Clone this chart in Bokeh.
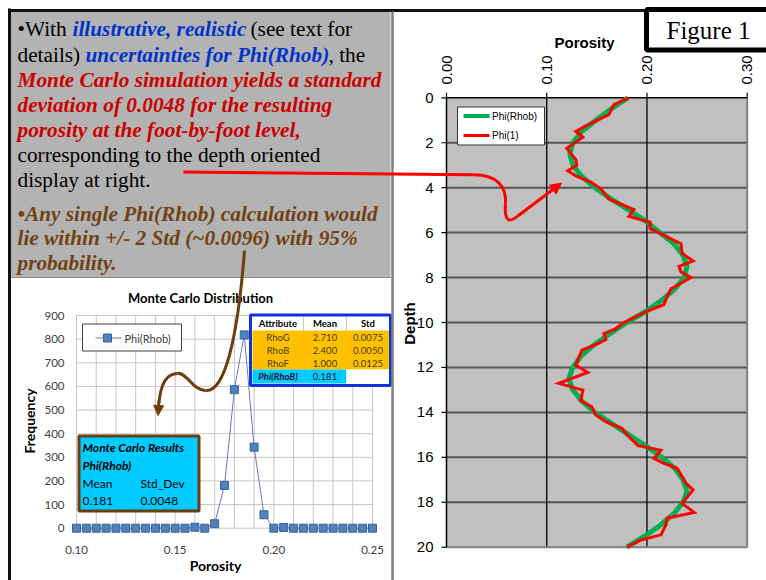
import numpy as np
from bokeh.plotting import figure
from bokeh.models import Range1d, Arrow, NormalHead
from bokeh.core.properties import value
from bokeh.embed import file_html
from bokeh.resources import INLINE

# ---------------- data ----------------
# Monte Carlo histogram of Phi(Rhob)
hist_porosity = [0.100, 0.105, 0.110, 0.115, 0.120, 0.125, 0.130, 0.135, 0.140, 0.145,
                 0.150, 0.155, 0.160, 0.165, 0.170, 0.175, 0.180, 0.185, 0.190, 0.195,
                 0.200, 0.205, 0.210, 0.215, 0.220, 0.225, 0.230, 0.235, 0.240, 0.245, 0.250]
hist_frequency = [0, 0, 0, 0, 0, 0, 0, 0, 0, 0,
                  0, 0, 4, 0, 19, 181, 586, 818, 343, 57,
                  0, 3, 0, 0, 0, 0, 0, 0, 0, 0, 0]
hist_x_ticks = [0.10, 0.15, 0.20, 0.25]
hist_x_labels = ["0.10", "0.15", "0.20", "0.25"]
hist_x_grid = [0.10, 0.11, 0.12, 0.13, 0.14, 0.15, 0.16, 0.17, 0.18,
               0.19, 0.20, 0.21, 0.22, 0.23, 0.24, 0.25]
hist_y_ticks = [0, 100, 200, 300, 400, 500, 600, 700, 800, 900]

# depth profile: smooth Phi(Rhob) and a single noisy realisation Phi(1)
depth_rhob = [0.0, 0.5, 1.0, 1.5, 2.0, 2.5, 3.0, 3.5, 4.0, 4.5, 5.0, 5.5, 6.0, 6.5,
              7.0, 7.5, 8.0, 8.5, 9.0, 9.5, 10.0, 10.5, 11.0, 11.5, 12.0, 12.5, 13.0,
              13.5, 14.0, 14.5, 15.0, 15.5, 16.0, 16.5, 17.0, 17.5, 18.0, 18.5, 19.0,
              19.5, 20.0]
phi_rhob = [0.181, 0.164, 0.149, 0.135, 0.126, 0.123, 0.126, 0.135, 0.148, 0.164,
            0.182, 0.199, 0.213, 0.227, 0.236, 0.240, 0.237, 0.228, 0.215, 0.199,
            0.180, 0.163, 0.147, 0.134, 0.126, 0.122, 0.126, 0.135, 0.148, 0.165,
            0.182, 0.199, 0.215, 0.228, 0.236, 0.240, 0.236, 0.227, 0.214, 0.198, 0.180]
depth_one = [0.00, 0.30, 0.75, 1.25, 1.50, 1.75, 2.25, 2.75, 3.00, 3.25, 3.50, 3.75,
             4.05, 4.50, 4.98, 5.28, 5.53, 5.82, 6.19, 6.49, 6.93, 7.26, 7.50, 7.75,
             8.00, 8.50, 8.85, 9.20, 9.50, 10.00, 10.27, 10.49, 10.76, 10.96, 11.23,
             11.90, 12.22, 12.71, 13.01, 13.48, 13.75, 14.12, 14.42, 14.71, 15.00,
             15.48, 15.68, 16.05, 16.27, 16.49, 17.16, 17.45, 18.05, 18.45, 18.71,
             19.00, 19.45, 19.68, 20.00]
phi_one = [0.182, 0.167, 0.162, 0.139, 0.129, 0.136, 0.120, 0.129, 0.130, 0.121, 0.130,
           0.144, 0.154, 0.162, 0.187, 0.182, 0.203, 0.203, 0.220, 0.234, 0.235, 0.246,
           0.232, 0.234, 0.244, 0.224, 0.220, 0.217, 0.200, 0.177, 0.169, 0.157, 0.159,
           0.150, 0.135, 0.129, 0.141, 0.112, 0.136, 0.134, 0.145, 0.149, 0.159, 0.175,
           0.180, 0.191, 0.214, 0.207, 0.217, 0.230, 0.239, 0.246, 0.235, 0.247, 0.220,
           0.219, 0.214, 0.194, 0.180]
depth_ticks = [0, 2, 4, 6, 8, 10, 12, 14, 16, 18, 20]
phi_ticks = [0.0, 0.1, 0.2, 0.3]
phi_labels = ["0.00", "0.10", "0.20", "0.30"]

# input uncertainty table and simulation result
table_header = ["Attribute", "Mean", "Std"]
table_attr = ["RhoG", "RhoB", "RhoF"]
table_mean = ["2.710", "2.400", "1.000"]
table_std = ["0.0075", "0.0050", "0.0125"]
result_mean = "0.181"
result_std = "0.0048"

# ---------------- canvas ----------------
W, H = 766, 580
p = figure(width=W, height=H, x_range=Range1d(0, W), y_range=Range1d(H, 0),
           output_backend="svg", toolbar_location=None, min_border=0,
           x_axis_location=None, y_axis_location=None)
p.grid.visible = False
p.outline_line_color = None
p.background_fill_color = "white"
p.border_fill_color = "white"


def span_x(v0, px0, v1, px1):
    k = (v1 - v0) / (px1 - px0)
    return Range1d(v0 - px0 * k, v0 + (W - px0) * k)


def span_y(v0, py0, v1, py1):
    k = (v1 - v0) / (py1 - py0)
    return Range1d(v0 + (H - py0) * k, v0 - py0 * k)


# chart panels placed on the page
p.extra_x_ranges = {"phi": span_x(0.0, 446, 0.30, 746.7),
                    "por": span_x(0.10, 76, 0.25, 372)}
p.extra_y_ranges = {"depth": span_y(0, 97.3, 20, 546.7),
                    "freq": span_y(0, 527.7, 900, 315)}

SERIF = value("Liberation Serif")
SANS = value("Liberation Sans")
CAL = value("Lato")

# ---------------- left text block ----------------
p.quad(left=10, right=390, top=11, bottom=277, fill_color="#b3b3b3", line_color=None)
p.line([10, 390], [277, 277], line_color="#8a8a8a", line_width=1)


def runs(xs, ys, texts, color, style):
    p.text(x=xs, y=ys, text=texts, text_color=color, text_font=SERIF,
           text_font_size="21.3px", text_font_style=style, text_baseline="middle",
           text_align="left")


runs([17, 250, 17, 328, 17, 17], [28, 28, 54, 54, 154.5, 179.5],
     ["\u2022With", "(see text for", "details)", ", the",
      "corresponding to the depth oriented", "display at right."], "#000000", "normal")
runs([72, 85], [28, 54], ["illustrative, realistic", "uncertainties for Phi(Rhob)"],
     "#0033cc", "bold italic")
runs([17, 17, 17], [79, 104, 129],
     ["Monte Carlo simulation yields a standard",
      "deviation of 0.0048 for the resulting",
      "porosity at the foot-by-foot level,"], "#cc0000", "bold italic")
runs([17, 17, 17], [213, 237.5, 262],
     ["\u2022Any single Phi(Rhob) calculation would",
      "lie within +/- 2 Std (~0.0096) with 95%",
      "probability."], "#704214", "bold italic")

# ---------------- histogram panel ----------------
p.segment(x0=hist_x_grid, y0=[0] * len(hist_x_grid), x1=hist_x_grid,
          y1=[900] * len(hist_x_grid), x_range_name="por", y_range_name="freq",
          line_color="#c6c6c6", line_width=1)
p.segment(x0=[0.10] * len(hist_y_ticks), y0=hist_y_ticks, x1=[0.25] * len(hist_y_ticks),
          y1=hist_y_ticks, x_range_name="por", y_range_name="freq",
          line_color="#c6c6c6", line_width=1)
p.text(x=[64] * len(hist_y_ticks), y=hist_y_ticks, y_range_name="freq",
       text=[str(v) for v in hist_y_ticks], text_font=CAL, text_font_size="11.5px",
       text_color="#404040", text_align="right", text_baseline="middle")
p.text(x=hist_x_ticks, y=[549] * len(hist_x_ticks), x_range_name="por",
       text=hist_x_labels, text_font=CAL, text_font_size="11.5px",
       text_color="#404040", text_align="center", text_baseline="middle")
p.text(x=[200], y=[297], text=["Monte Carlo Distribution"], text_font=CAL,
       text_font_size="13px", text_font_style="bold", text_align="center",
       text_baseline="middle", text_color="#000000")
p.text(x=[215], y=[565], text=["Porosity"], text_font=CAL, text_font_size="14px",
       text_font_style="bold", text_align="center", text_baseline="middle")
p.text(x=[29], y=[420.5], text=["Frequency"], text_font=CAL, text_font_size="14px",
       text_font_style="bold", text_align="center", text_baseline="middle",
       angle=np.pi / 2)

p.line(hist_porosity, hist_frequency, x_range_name="por", y_range_name="freq",
       line_color="#7575bd", line_width=1)
p.scatter(hist_porosity, hist_frequency, x_range_name="por", y_range_name="freq",
          marker="square", size=8, fill_color="#4f81bd", line_color="#3a6294")

# histogram legend
p.quad(left=82, right=181, top=323.5, bottom=350.5, fill_color="white",
       line_color="#404040", line_width=1)
p.line([95, 121], [337.5, 337.5], line_color="#7575bd", line_width=1)
p.scatter([107], [337.5], marker="square", size=8, fill_color="#4f81bd",
          line_color="#3a6294")
p.text(x=[124], y=[337.5], text=["Phi(Rhob)"], text_font=CAL, text_font_size="11px",
       text_color="#404040", text_baseline="middle")

# input table
col_edges = [252, 303, 346, 389]
row_edges = [316, 330, 343, 356, 369, 383]
p.quad(left=col_edges[0], right=col_edges[3], top=row_edges[0], bottom=row_edges[1],
       fill_color="white", line_color=None)
p.quad(left=col_edges[0], right=col_edges[3], top=row_edges[1], bottom=row_edges[4],
       fill_color="#ffc000", line_color=None)
p.quad(left=col_edges[0], right=col_edges[2], top=row_edges[4], bottom=row_edges[5],
       fill_color="#00ccff", line_color=None)
p.quad(left=col_edges[2], right=col_edges[3], top=row_edges[4], bottom=row_edges[5],
       fill_color="white", line_color=None)
p.segment(x0=col_edges[1:3], y0=[row_edges[0]] * 2, x1=col_edges[1:3],
          y1=[row_edges[1]] * 2, line_color="#c8c8c8", line_width=1)
col_mid = [(col_edges[i] + col_edges[i + 1]) / 2 for i in range(3)]
row_mid = [(row_edges[i] + row_edges[i + 1]) / 2 for i in range(5)]
p.text(x=col_mid, y=[row_mid[0]] * 3, text=table_header, text_font=CAL,
       text_font_size="9.5px", text_font_style="bold", text_align="center",
       text_baseline="middle", text_color="#000000")
body_x, body_y, body_t = [], [], []
for i in range(3):
    for j, cell in enumerate([table_attr[i], table_mean[i], table_std[i]]):
        body_x.append(col_mid[j])
        body_y.append(row_mid[i + 1])
        body_t.append(cell)
p.text(x=body_x, y=body_y, text=body_t, text_font=CAL, text_font_size="9.5px",
       text_align="center", text_baseline="middle", text_color="#4a3b00")
p.text(x=[col_mid[0]], y=[row_mid[4]], text=["Phi(RhoB)"], text_font=CAL,
       text_font_size="9.5px", text_font_style="bold italic", text_align="center",
       text_baseline="middle", text_color="#111133")
p.text(x=[col_mid[1]], y=[row_mid[4]], text=[result_mean], text_font=CAL,
       text_font_size="9.5px", text_align="center", text_baseline="middle",
       text_color="#222222")
p.quad(left=250, right=390, top=314.5, bottom=385, fill_color=None,
       line_color="#1133dd", line_width=3)

# result box
p.quad(left=78.5, right=198.5, top=435.5, bottom=510.5, fill_color="#00ccff",
       line_color="#6b3e12", line_width=3)
p.text(x=[82, 82], y=[447, 465], text=["Monte Carlo Results", "Phi(Rhob)"],
       text_font=CAL, text_font_size="12px", text_font_style="bold italic",
       text_baseline="middle", text_color="#000000")
p.text(x=[82, 140, 82, 140], y=[483, 483, 500.5, 500.5],
       text=["Mean", "Std_Dev", result_mean, result_std], text_font=CAL,
       text_font_size="12px", text_baseline="middle", text_color="#000000")

# ---------------- depth panel ----------------
p.quad(left=0.0, right=0.30, top=0, bottom=20, x_range_name="phi", y_range_name="depth",
       fill_color="#c0c0c0", line_color=None)
inner = depth_ticks[1:-1]
p.segment(x0=[0.0] * len(inner), y0=inner, x1=[0.30] * len(inner), y1=inner,
          x_range_name="phi", y_range_name="depth", line_color="#555555", line_width=2)
p.segment(x0=[0.1, 0.2], y0=[0, 0], x1=[0.1, 0.2], y1=[20, 20],
          x_range_name="phi", y_range_name="depth", line_color="#000000", line_width=1.3)
p.segment(x0=[0.0, 0.30], y0=[20, 0], x1=[0.30, 0.30], y1=[20, 20],
          x_range_name="phi", y_range_name="depth", line_color="#808080", line_width=2)
p.segment(x0=[0.0, 0.0], y0=[0, 0], x1=[0.30, 0.0], y1=[0, 20],
          x_range_name="phi", y_range_name="depth", line_color="#000000", line_width=1.5)
p.ray(x=phi_ticks, y=[0] * len(phi_ticks), length=5, length_units="screen",
      angle=np.pi / 2, x_range_name="phi", y_range_name="depth",
      line_color="#000000", line_width=1.2)
p.ray(x=[0.0] * len(depth_ticks), y=depth_ticks, length=5, length_units="screen",
      angle=np.pi, x_range_name="phi", y_range_name="depth",
      line_color="#000000", line_width=1.2)

p.text(x=[433] * len(depth_ticks), y=depth_ticks, y_range_name="depth",
       text=[str(d) for d in depth_ticks], text_font=SANS, text_font_size="15px",
       text_align="right", text_baseline="middle", text_color="#000000")
p.text(x=phi_ticks, y=[84] * len(phi_ticks), x_range_name="phi", text=phi_labels,
       text_font=SANS, text_font_size="15px", text_align="left",
       text_baseline="middle", angle=np.pi / 2, text_color="#000000")
p.text(x=[584], y=[42], text=["Porosity"], text_font=SANS, text_font_size="15px",
       text_font_style="bold", text_align="center", text_baseline="middle")
p.text(x=[408.5], y=[323], text=["Depth"], text_font=SANS, text_font_size="15px",
       text_font_style="bold", text_align="center", text_baseline="middle",
       angle=np.pi / 2)

p.line(phi_rhob, depth_rhob, x_range_name="phi", y_range_name="depth",
       line_color="#00b050", line_width=5, line_join="round")
p.line(phi_one, depth_one, x_range_name="phi", y_range_name="depth",
       line_color="#ff0000", line_width=3, line_join="miter")

# depth legend
p.quad(left=457, right=544, top=106.5, bottom=144.5, fill_color="white",
       line_color="#333333", line_width=1)
p.line([463, 489], [115.5, 115.5], line_color="#00b050", line_width=4)
p.line([463, 489], [135, 135], line_color="#ff0000", line_width=3)
p.text(x=[491.5, 491.5], y=[115.5, 135], text=["Phi(Rhob)", "Phi(1)"], text_font=SANS,
       text_font_size="10px", text_baseline="middle", text_color="#000000")

# ---------------- frame lines and caption ----------------
p.line([9, 9], [8, H], line_color="#111111", line_width=3)
p.line([8, W], [10, 10], line_color="#111111", line_width=3)
p.line([392, 392], [11, H], line_color="#808080", line_width=2.5)
p.quad(left=646, right=772, top=9, bottom=49.5, fill_color="white",
       line_color="#000000", line_width=5)
p.text(x=[708], y=[30], text=["Figure 1"], text_font=SERIF, text_font_size="25px",
       text_align="center", text_baseline="middle", text_color="#000000")

# ---------------- callout arrows ----------------
RED = "#ff0000"
p.line([183, 473], [171.5, 174.3], line_color=RED, line_width=3)
p.bezier(x0=[473, 505], y0=[174.3, 203], x1=[505, 519], y1=[203, 214],
         cx0=[497, 503.5], cy0=[174.5, 222], cx1=[506, 509], cy1=[186, 223],
         line_color=RED, line_width=3)
p.add_layout(Arrow(x_start=518, y_start=215, x_end=561, y_end=182.5,
                   line_color=RED, line_width=3,
                   end=NormalHead(size=11, fill_color=RED, line_color=RED, line_width=1)))

BROWN = "#6e3f0c"
p.bezier(x0=[244, 205, 177], y0=[250, 390, 373], x1=[205, 177, 158.5], y1=[390, 373, 402],
         cx0=[237, 192, 165], cy0=[340, 390, 373], cx1=[224, 186, 160], cy1=[392, 371, 386],
         line_color=BROWN, line_width=3)
p.add_layout(Arrow(x_start=158.5, y_start=400, x_end=157.5, y_end=415,
                   line_color=BROWN, line_width=3,
                   end=NormalHead(size=10, fill_color=BROWN, line_color=BROWN, line_width=1)))

open("out.html", "w").write(file_html(p, INLINE))
